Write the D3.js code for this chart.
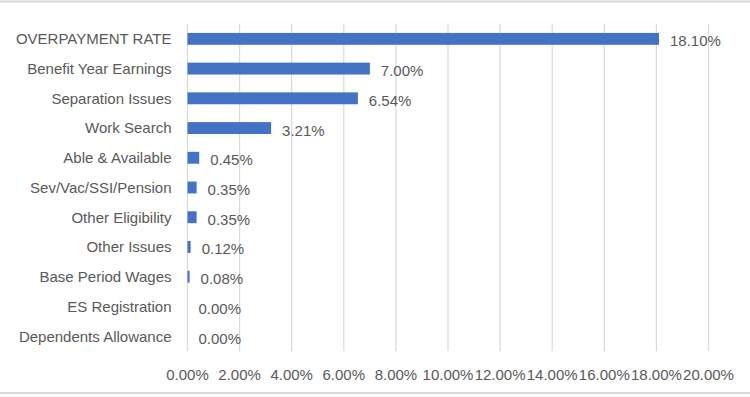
<!DOCTYPE html>
<html>
<head>
<meta charset="utf-8">
<script src="https://cdn.jsdelivr.net/npm/d3@7"></script>
<style>
  body { margin: 0; background: #fff; }
  svg text { font-family: "Liberation Sans", Arial, sans-serif; fill: #595959; }
</style>
</head>
<body>
<svg class="chart" width="750" height="397"></svg>
<script>

const categories = [
    'OVERPAYMENT RATE',
    'Benefit Year Earnings',
    'Separation Issues',
    'Work Search',
    'Able & Available',
    'Sev/Vac/SSI/Pension',
    'Other Eligibility',
    'Other Issues',
    'Base Period Wages',
    'ES Registration',
    'Dependents Allowance'
];

const values = [18.10, 7.00, 6.54, 3.21, 0.45, 0.35, 0.35, 0.12, 0.08, 0.00, 0.00];

const x_ticks = [0, 2, 4, 6, 8, 10, 12, 14, 16, 18, 20];

const svg = d3.select('.chart');

const w = 750;
const h = 397;

const plot = { left: 187.5, right: 708.5, top: 24, bottom: 351 };

const x = d3.scaleLinear()
    .domain([0, 20])
    .range([plot.left, plot.right]);

const y = d3.scaleBand()
    .domain(categories)
    .range([plot.top, plot.bottom])
    .paddingInner(0.6)
    .paddingOuter(0.3);

// chart frame lines (top / bottom)
svg.append('line')
    .attr('x1', 0).attr('x2', w)
    .attr('y1', 1.5).attr('y2', 1.5)
    .attr('stroke', '#d9d9d9').attr('stroke-width', 2);

svg.append('line')
    .attr('x1', 0).attr('x2', w)
    .attr('y1', 393).attr('y2', 393)
    .attr('stroke', '#d9d9d9').attr('stroke-width', 2);

// gridlines
svg.append('g')
    .selectAll('line')
    .data(x_ticks)
    .join('line')
    .attr('x1', d => x(d)).attr('x2', d => x(d))
    .attr('y1', plot.top).attr('y2', plot.bottom)
    .attr('stroke', '#d9d9d9')
    .attr('stroke-width', 1.2);

// x tick labels
svg.append('g')
    .selectAll('text')
    .data(x_ticks)
    .join('text')
    .attr('x', d => x(d))
    .attr('y', 380)
    .attr('text-anchor', 'middle')
    .style('font-size', '15px')
    .text(d => d.toFixed(2) + '%');

// bars
svg.append('g')
    .selectAll('rect')
    .data(values)
    .join('rect')
    .attr('x', x(0))
    .attr('y', (d, i) => y(categories[i]))
    .attr('width', d => x(d) - x(0))
    .attr('height', y.bandwidth())
    .attr('fill', '#4472c4');

// category labels
svg.append('g')
    .selectAll('text')
    .data(categories)
    .join('text')
    .attr('x', x(0) - 16)
    .attr('y', d => y(d) + y.bandwidth() / 2)
    .attr('dy', '0.36em')
    .attr('text-anchor', 'end')
    .style('font-size', '15px')
    .text(d => d);

// value labels
svg.append('g')
    .selectAll('text')
    .data(values)
    .join('text')
    .attr('x', d => x(d) + 11)
    .attr('y', (d, i) => y(categories[i]) + y.bandwidth() / 2)
    .attr('dy', '0.5em')
    .style('font-size', '15px')
    .text(d => d.toFixed(2) + '%');

</script>
</body>
</html>
